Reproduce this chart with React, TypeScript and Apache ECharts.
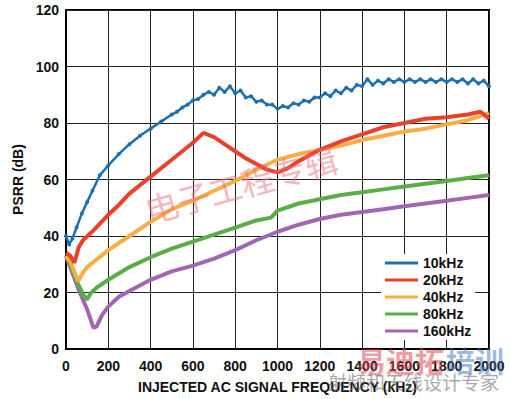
import React, { useEffect, useRef } from "react";
import * as echarts from "echarts";

// ---- data (frequency kHz, PSRR dB) ----
const xTicks = [0, 200, 400, 600, 800, 1000, 1200, 1400, 1600, 1800, 2000];
const yTicks = [0, 20, 40, 60, 80, 100, 120];

const legendNames = ["10kHz", "20kHz", "40kHz", "80kHz", "160kHz"];

const psrr10k: [number, number][] = [
  [0, 40], [15, 37], [30, 39], [50, 43], [75, 48], [100, 52], [125, 56], [160, 61.5], [200, 65],
  [250, 69], [300, 72.5], [350, 75.5], [400, 78], [450, 80.5], [500, 83],
  [525, 84], [550, 85.5], [575, 86.5], [600, 88], [625, 88.5], [650, 90], [675, 91], [700, 90],
  [725, 92.5], [750, 91], [775, 93], [800, 90.5], [825, 91.5], [850, 89], [875, 89.5], [900, 87.5],
  [925, 88], [950, 86.5], [975, 86.5], [1000, 85], [1025, 86], [1050, 85.5], [1075, 87], [1100, 86.5],
  [1125, 88], [1150, 87.5], [1175, 89], [1200, 89], [1225, 90.5], [1250, 89.5], [1275, 91.5], [1300, 90.5],
  [1325, 92.5], [1350, 91.5], [1375, 93.5], [1400, 93], [1425, 95.5], [1450, 93.5], [1475, 95], [1500, 94],
  [1525, 95.5], [1550, 94.5], [1575, 95.5], [1600, 94.5], [1625, 95.5], [1650, 94.5], [1675, 95.5], [1700, 94.5],
  [1725, 95.5], [1750, 94.5], [1775, 95.5], [1800, 94.5], [1825, 95.5], [1850, 94.5], [1875, 95.5], [1900, 94],
  [1925, 95.5], [1950, 94], [1975, 95], [2000, 93],
];

const psrr20k: [number, number][] = [
  [0, 34], [20, 33], [40, 30.5], [60, 36], [80, 38.5], [130, 42], [200, 47.5], [250, 51], [300, 55],
  [400, 61], [500, 67], [600, 73], [650, 76.5], [700, 75], [750, 72.5], [800, 70], [850, 67.5],
  [900, 65.5], [950, 63.5], [1000, 62.5], [1050, 64], [1100, 66.5], [1150, 68.5], [1200, 70.5],
  [1300, 73.5], [1400, 76], [1500, 78.5], [1600, 80], [1700, 81.5], [1800, 82], [1900, 83], [1960, 84], [2000, 81.5],
];

const psrr40k: [number, number][] = [
  [0, 33], [20, 31], [57, 24], [80, 27], [100, 29], [150, 32], [200, 35], [300, 40], [400, 45],
  [500, 49.5], [600, 52.5], [700, 56], [800, 59.5], [900, 63.5], [1000, 67], [1100, 69], [1200, 70.5],
  [1300, 72], [1400, 74], [1500, 75.5], [1600, 77], [1700, 78], [1800, 79.5], [1900, 81], [2000, 83.5],
];

const psrr80k: [number, number][] = [
  [0, 33], [20, 30], [50, 24], [80, 19.5], [98, 17.5], [120, 20], [150, 22], [200, 24.5], [300, 29],
  [400, 32.5], [500, 35.5], [600, 38], [700, 40.5], [800, 43], [900, 45.5], [970, 46.5], [1000, 49],
  [1100, 51.5], [1200, 53], [1300, 54.5], [1400, 55.5], [1500, 56.5], [1600, 57.5], [1700, 58.5],
  [1800, 59.5], [1900, 60.5], [2000, 61.5],
];

const psrr160k: [number, number][] = [
  [0, 33], [20, 29], [60, 21], [100, 14], [130, 7.5], [145, 8], [170, 12], [200, 15], [250, 18.5],
  [300, 20.5], [400, 24.5], [500, 27.5], [600, 29.5], [700, 32], [800, 35], [900, 38.5], [1000, 41.5],
  [1100, 44], [1200, 46], [1300, 47.5], [1400, 48.5], [1500, 49.5], [1600, 50.5], [1700, 51.5],
  [1800, 52.5], [1900, 53.5], [2000, 54.5],
];

const seriesData = [psrr10k, psrr20k, psrr40k, psrr80k, psrr160k];
const colors = ["#1f6fb0", "#e8412c", "#f7ae45", "#5bae47", "#a267b3"];

const FONT = "Arial, 'Liberation Sans', sans-serif";

export default function App() {
  const ref = useRef<HTMLDivElement>(null);
  useEffect(() => {
    if (!ref.current) return;
    const chart = echarts.init(ref.current, null, { renderer: "svg" });
    const option: any = {
      animation: false,
      backgroundColor: "#fff",
      grid: {
        left: 66,
        right: 21,
        top: 10,
        bottom: 50,
        show: true,
        borderColor: "#000",
        borderWidth: 2,
        backgroundColor: "transparent",
      },
      xAxis: {
        type: "value",
        min: 0,
        max: 2000,
        interval: 200,
        name: "INJECTED AC SIGNAL FREQUENCY (kHz)",
        nameLocation: "middle",
        nameGap: 31,
        nameTextStyle: { fontFamily: FONT, fontWeight: "bold", fontSize: 14, color: "#111" },
        axisLine: { show: true, lineStyle: { color: "#000", width: 2 } },
        axisTick: { show: false },
        splitLine: { show: true, lineStyle: { color: "#222", width: 1 } },
        axisLabel: {
          margin: 10,
          fontFamily: FONT,
          fontWeight: "bold",
          fontSize: 14,
          color: "#111",
          customValues: xTicks,
          formatter: (v: number) => String(v),
        },
      },
      yAxis: {
        type: "value",
        min: 0,
        max: 120,
        interval: 20,
        name: "PSRR (dB)",
        nameLocation: "middle",
        nameGap: 38,
        nameRotate: 90,
        nameTextStyle: { fontFamily: FONT, fontWeight: "bold", fontSize: 14, color: "#111" },
        axisLine: { show: true, lineStyle: { color: "#000", width: 2 } },
        axisTick: { show: false },
        splitLine: { show: true, lineStyle: { color: "#222", width: 1 } },
        axisLabel: {
          margin: 7,
          fontFamily: FONT,
          fontWeight: "bold",
          fontSize: 14,
          color: "#111",
          customValues: yTicks,
          formatter: (v: number) => String(v),
        },
      },
      legend: {
        orient: "vertical",
        left: 381,
        top: 254,
        padding: [2, 4, 2, 4],
        backgroundColor: "#fff",
        itemWidth: 33,
        itemHeight: 3,
        itemGap: 3,
        icon: "rect",
        data: legendNames,
        textStyle: {
          fontFamily: FONT,
          fontWeight: "bold",
          fontSize: 14,
          color: "#111",
          lineHeight: 14,
          padding: [0, 0, 0, 0],
        },
      },
      graphic: [
        {
          type: "text",
          x: 241,
          y: 184,
          rotation: 0.27,
          z: 50,
          style: {
            text: "电子工程专辑",
            fontFamily: "'Noto Sans CJK SC'",
            fontSize: 33,
            fill: "rgba(238,110,125,0.5)",
            textAlign: "center",
            textVerticalAlign: "middle",
          },
        },
        {
          type: "text",
          x: 357,
          y: 360,
          z: 50,
          style: {
            text: "易迪拓",
            fontFamily: "'Noto Sans CJK SC'",
            fontWeight: "bold",
            fontSize: 29,
            fill: "rgba(225,70,80,0.55)",
            textAlign: "left",
            textVerticalAlign: "middle",
          },
        },
        {
          type: "text",
          x: 446,
          y: 360,
          z: 50,
          style: {
            text: "培训",
            fontFamily: "'Noto Sans CJK SC'",
            fontWeight: "bold",
            fontSize: 29,
            fill: "rgba(70,115,190,0.5)",
            textAlign: "left",
            textVerticalAlign: "middle",
          },
        },
        {
          type: "text",
          x: 328,
          y: 381,
          z: 50,
          style: {
            text: "射频和天线设计专家",
            fontFamily: "'Noto Sans CJK SC'",
            fontSize: 19,
            fill: "rgba(110,110,110,0.6)",
            textAlign: "left",
            textVerticalAlign: "middle",
          },
        },
      ],
      series: seriesData.map((d, i) => ({
        name: legendNames[i],
        type: "line",
        data: d,
        color: colors[i],
        showSymbol: i === 0,
        symbol: "circle",
        symbolSize: 4,
        lineStyle: { width: i === 0 ? 2.5 : 4, color: colors[i] },
        itemStyle: { color: colors[i] },
        z: 10 - i,
        emphasis: { disabled: true },
      })),
    };
    chart.setOption(option);
    return () => chart.dispose();
  }, []);
  return <div ref={ref} style={{ width: 510, height: 399, position: "absolute", left: 0, top: 0 }} />;
}
